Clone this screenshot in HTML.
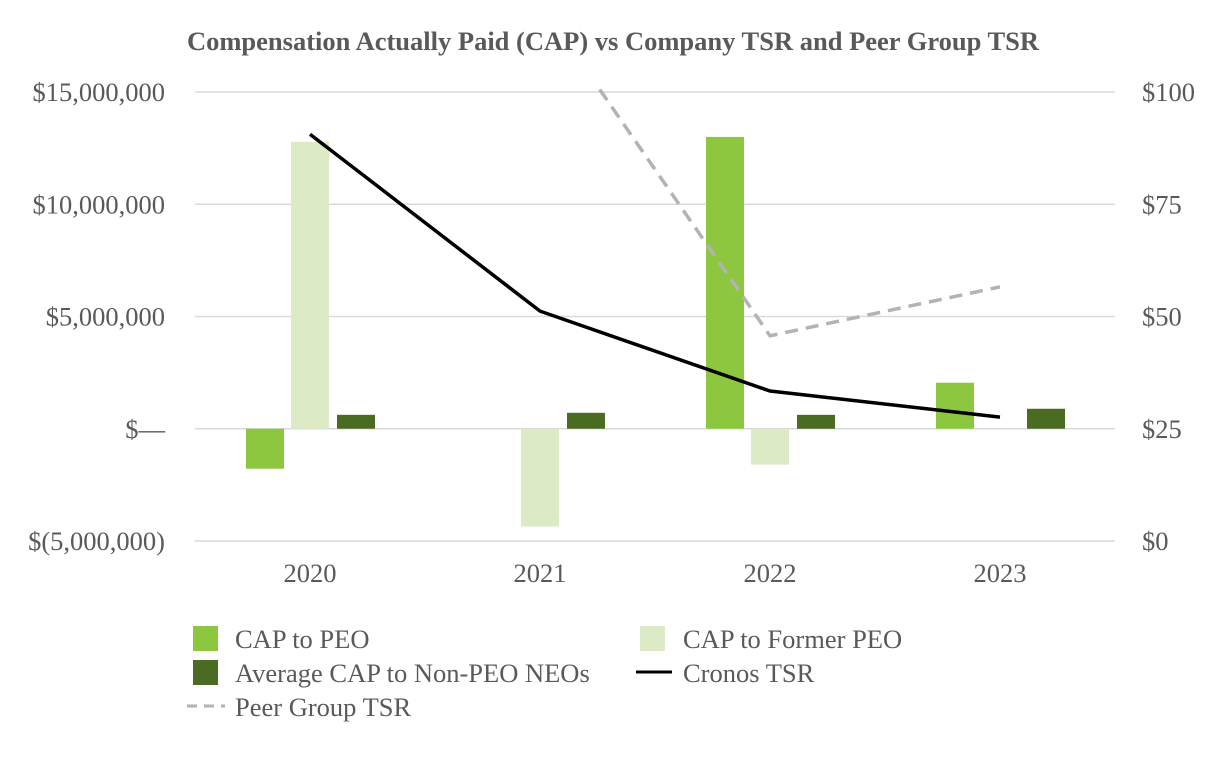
<!DOCTYPE html>
<html><head><meta charset="utf-8"><style>
body{margin:0;background:#fff;}
svg text{font-family:"Liberation Serif",serif;fill:#595959;}
</style></head><body>
<svg id="chart" width="1226" height="760" viewBox="0 0 1226 760" xmlns="http://www.w3.org/2000/svg">
<text x="613" y="50" text-anchor="middle" font-size="26.5" font-weight="bold">Compensation Actually Paid (CAP) vs Company TSR and Peer Group TSR</text>
<defs><clipPath id="plotclip"><rect x="195" y="88" width="920" height="460"/></clipPath></defs>
<g id="grid"></g><g id="bars"></g><g id="lines" clip-path="url(#plotclip)"></g><g id="axes"></g>
<g id="legend">
<rect x="193" y="626" width="25" height="25" fill="#8dc63f"/>
<text x="235" y="648" font-size="26.5">CAP to PEO</text>
<rect x="640" y="626" width="25" height="25" fill="#dcebc6"/>
<text x="683" y="648" font-size="26.5">CAP to Former PEO</text>
<rect x="193" y="660" width="25" height="25" fill="#4a6b22"/>
<text x="235" y="682" font-size="26.5">Average CAP to Non-PEO NEOs</text>
<line x1="636" y1="672" x2="672" y2="672" stroke="#000" stroke-width="3"/>
<text x="683" y="682" font-size="26.5">Cronos TSR</text>
<line x1="187" y1="706" x2="225" y2="706" stroke="#b3b3b3" stroke-width="3" stroke-dasharray="10,7"/>
<text x="235" y="716" font-size="26.5">Peer Group TSR</text>
</g>
</svg>
<script>
const categories=["2020","2021","2022","2023"];
const capPeo=[-1.78e6,null,13.0e6,2.05e6];
const capFormerPeo=[12.78e6,-4.36e6,-1.6e6,null];
const avgCapNeo=[0.62e6,0.71e6,0.62e6,0.89e6];
const cronosTsr=[90.6,51.2,33.4,27.6];
const peerTsr=[null,119.8,45.7,56.6];
const leftTicks=[15e6,10e6,5e6,0,-5e6];
const leftTickLabels=["$15,000,000","$10,000,000","$5,000,000","$—","$(5,000,000)"];
const rightTicks=[100,75,50,25,0];
const rightTickLabels=["$100","$75","$50","$25","$0"];

const NS="http://www.w3.org/2000/svg";
const X0=195,X1=1115,Ytop=92,Ybot=541;
const yL=v=>Ybot-(v+5e6)/20e6*(Ybot-Ytop);
const yR=v=>Ybot-v/100*(Ybot-Ytop);
const bandW=(X1-X0)/categories.length;
const xC=i=>X0+bandW*(i+0.5);
function mk(tag,attrs,parent,txt){const e=document.createElementNS(NS,tag);for(const k in attrs)e.setAttribute(k,attrs[k]);if(txt!=null)e.textContent=txt;document.getElementById(parent).appendChild(e);return e;}
leftTicks.forEach((t,i)=>{
 const g=mk("line",{x1:X0,x2:X1,y1:yL(t),y2:yL(t),stroke:"#d9d9d9","stroke-width":1.5},"grid");
 
 
 const l=mk("text",{x:165,y:yL(t)+9,"text-anchor":"end","font-size":26.5},"axes",leftTickLabels[i]);
 
 
});
rightTicks.forEach((t,i)=>{
 const l=mk("text",{x:1142,y:yR(t)+9,"font-size":26.5},"axes",rightTickLabels[i]);
 
 
});
categories.forEach((c,i)=>{
 const l=mk("text",{x:xC(i),y:582,"text-anchor":"middle","font-size":26.5},"axes",c);
 
 
});
const series=[[capPeo,"#8dc63f",-45,"bar-cap-peo"],[capFormerPeo,"#dcebc6",0,"bar-cap-former-peo"],[avgCapNeo,"#4a6b22",46,"bar-avg-cap-neo"]];
const BW=38;
series.forEach(([arr,col,off,name])=>{
 arr.forEach((v,i)=>{
  if(v==null)return;
  const y0=yL(0),y1=yL(v);
  const r=mk("rect",{x:xC(i)+off-BW/2,y:Math.min(y0,y1),width:BW,height:Math.abs(y1-y0),fill:col},"bars");
  
  
 });
});
function path(arr){let d="";arr.forEach((v,i)=>{if(v==null)return;d+=(d?"L":"M")+xC(i)+","+yR(v);});return d;}
const p1=mk("path",{d:path(peerTsr),fill:"none",stroke:"#b3b3b3","stroke-width":3.5,"stroke-dasharray":"13,8"},"lines");


const p2=mk("path",{d:path(cronosTsr),fill:"none",stroke:"#000","stroke-width":3.5},"lines");


</script>
</body></html>
